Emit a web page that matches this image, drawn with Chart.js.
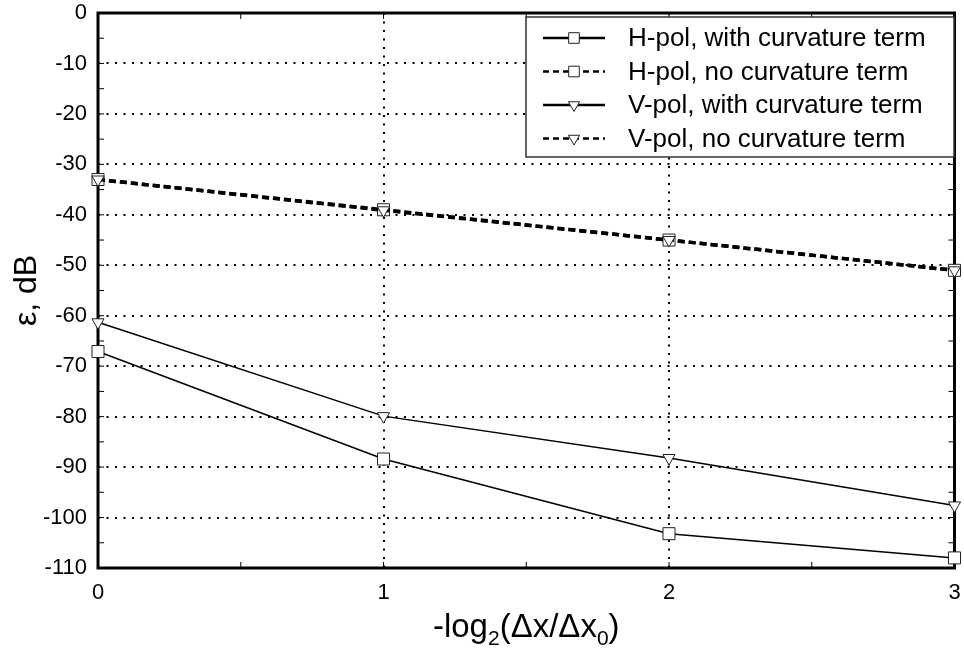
<!DOCTYPE html>
<html>
<head>
<meta charset="utf-8">
<script src="https://cdn.jsdelivr.net/npm/chart.js@4/dist/chart.umd.min.js"></script>
<style>
  html, body { margin: 0; padding: 0; background: #fff; }
  #wrap { width: 964px; height: 650px; }
</style>
</head>
<body>
<div id="wrap"><canvas id="myChart" width="964" height="650"></canvas></div>
<script>
// -log2(dx/dx0) steps
const steps = [0, 1, 2, 3];
const hPolCurv = [-67.1, -88.4, -103.2, -108.0];
const hPolNoCurv = [-33.0, -39.0, -45.0, -51.0];
const vPolCurv = [-61.3, -79.9, -88.2, -97.6];
const vPolNoCurv = [-33.0, -39.1, -45.0, -51.0];
const seriesNames = [
  "H-pol, with curvature term",
  "H-pol, no curvature term",
  "V-pol, with curvature term",
  "V-pol, no curvature term"
];
const xTicks = [0, 1, 2, 3];
const yTicks = [0, -10, -20, -30, -40, -50, -60, -70, -80, -90, -100, -110];

const FONT = "'Liberation Sans', Arial, sans-serif";

function series(vals) {
  return steps.map((s, i) => ({ x: s, y: vals[i] }));
}

function makeSet(i, vals, dashed, square) {
  return {
    label: seriesNames[i],
    data: series(vals),
    borderColor: "#000",
    borderWidth: dashed ? 3.5 : 1.5,
    borderDash: dashed ? [7, 4] : [],
    pointStyle: square ? "rect" : "triangle",
    pointRadius: square ? 8.5 : 7,
    pointRotation: square ? 0 : 180,
    pointBackgroundColor: "#fff",
    pointBorderColor: "#222",
    pointBorderWidth: 1,
    tension: 0,
    clip: false,
    // H-pol dashed goes underneath so the triangles show on top
    order: (i === 1) ? 1 : 0
  };
}

// frame + inward minor ticks, drawn under the data
const framePlugin = {
  id: "frame",
  beforeDatasetsDraw(chart) {
    const { ctx, chartArea: a, scales } = chart;
    ctx.save();
    ctx.strokeStyle = "#000";
    ctx.lineWidth = 1;
    for (let v = -110; v <= 0; v += 5) {
      const y = scales.y.getPixelForValue(v);
      ctx.beginPath();
      ctx.moveTo(a.left, y); ctx.lineTo(a.left + 6, y);
      ctx.moveTo(a.right, y); ctx.lineTo(a.right - 6, y);
      ctx.stroke();
    }
    for (let v = 0; v <= 3; v += 0.5) {
      const x = scales.x.getPixelForValue(v);
      ctx.beginPath();
      ctx.moveTo(x, a.bottom); ctx.lineTo(x, a.bottom - 6);
      ctx.moveTo(x, a.top); ctx.lineTo(x, a.top + 6);
      ctx.stroke();
    }
    ctx.lineWidth = 3;
    ctx.strokeRect(a.left, a.top, a.right - a.left, a.bottom - a.top);
    ctx.restore();
  }
};

// axis titles (with subscripts) and the boxed legend
const overlayPlugin = {
  id: "overlay",
  afterDraw(chart) {
    const { ctx, chartArea: a } = chart;
    ctx.save();
    ctx.fillStyle = "#000";

    // y title
    ctx.save();
    ctx.translate(27, (a.top + a.bottom) / 2);
    ctx.rotate(-Math.PI / 2);
    ctx.font = "32px " + FONT;
    ctx.textAlign = "center";
    ctx.textBaseline = "middle";
    ctx.fillText("ε, dB", 0, 0);
    ctx.restore();

    // x title: -log2(Δx/Δx0)
    const parts = [["-log", 0], ["2", 1], ["(Δx/Δx", 0], ["0", 1], [")", 0]];
    const big = "33px " + FONT, small = "21px " + FONT;
    let total = 0;
    parts.forEach(p => { ctx.font = p[1] ? small : big; total += ctx.measureText(p[0]).width; });
    let x = (a.left + a.right) / 2 - total / 2;
    const base = 637;
    ctx.textAlign = "left";
    ctx.textBaseline = "alphabetic";
    parts.forEach(p => {
      ctx.font = p[1] ? small : big;
      ctx.fillText(p[0], x, p[1] ? base + 8 : base);
      x += ctx.measureText(p[0]).width;
    });

    // legend
    const bx = 526, by = 17, bw = 428, bh = 140;
    ctx.fillStyle = "#fff";
    ctx.fillRect(bx, by, bw, bh);
    ctx.strokeStyle = "#333";
    ctx.lineWidth = 1.5;
    ctx.strokeRect(bx, by, bw, bh);
    ctx.font = "26px " + FONT;
    ctx.textBaseline = "middle";
    chart.data.datasets.forEach((ds, i) => {
      const y = 38 + i * 33.5;
      ctx.strokeStyle = "#000";
      ctx.lineWidth = 2.5;
      ctx.setLineDash(ds.borderDash.length ? [6, 4] : []);
      ctx.beginPath();
      ctx.moveTo(543, y); ctx.lineTo(605, y);
      ctx.stroke();
      ctx.setLineDash([]);
      ctx.fillStyle = "#fff";
      ctx.strokeStyle = "#222";
      ctx.lineWidth = 1;
      Chart.helpers.drawPoint(ctx, {
        pointStyle: ds.pointStyle,
        radius: ds.pointStyle === "rect" ? 7.5 : 6.5,
        rotation: ds.pointRotation,
        borderWidth: 1
      }, 574, y);
      ctx.fillStyle = "#000";
      ctx.fillText(ds.label, 628, y + 1);
    });
    ctx.restore();
  }
};

const ctx = document.getElementById("myChart").getContext("2d");
const myChart = new Chart(ctx, {
  type: "line",
  data: {
    datasets: [
      makeSet(0, hPolCurv, false, true),
      makeSet(1, hPolNoCurv, true, true),
      makeSet(2, vPolCurv, false, false),
      makeSet(3, vPolNoCurv, true, false)
    ]
  },
  options: {
    responsive: false,
    animation: false,
    devicePixelRatio: 1,
    layout: { padding: { top: 13, right: 6, left: 0, bottom: 0 } },
    plugins: {
      legend: { display: false },
      tooltip: { enabled: false }
    },
    scales: {
      x: {
        type: "linear",
        min: 0,
        max: 3,
        afterBuildTicks: s => { s.ticks = xTicks.map(v => ({ value: v })); },
        afterFit: s => { s.height = 82; s.paddingLeft = 0; s.paddingRight = 0; },
        grid: { color: "#000", lineWidth: 2, drawTicks: false },
        border: { display: false, dash: [2, 6.5] },
        ticks: { color: "#000", padding: 12, font: { family: FONT, size: 22 } }
      },
      y: {
        type: "linear",
        min: -110,
        max: 0,
        afterBuildTicks: s => { s.ticks = yTicks.map(v => ({ value: v })); },
        afterFit: s => { s.width = 98; s.paddingTop = 0; s.paddingBottom = 0; },
        grid: { color: "#000", lineWidth: 2, drawTicks: false },
        border: { display: false, dash: [2, 6.5] },
        ticks: { color: "#000", padding: 11, font: { family: FONT, size: 22 } }
      }
    }
  },
  plugins: [framePlugin, overlayPlugin]
});
</script>
</body>
</html>
